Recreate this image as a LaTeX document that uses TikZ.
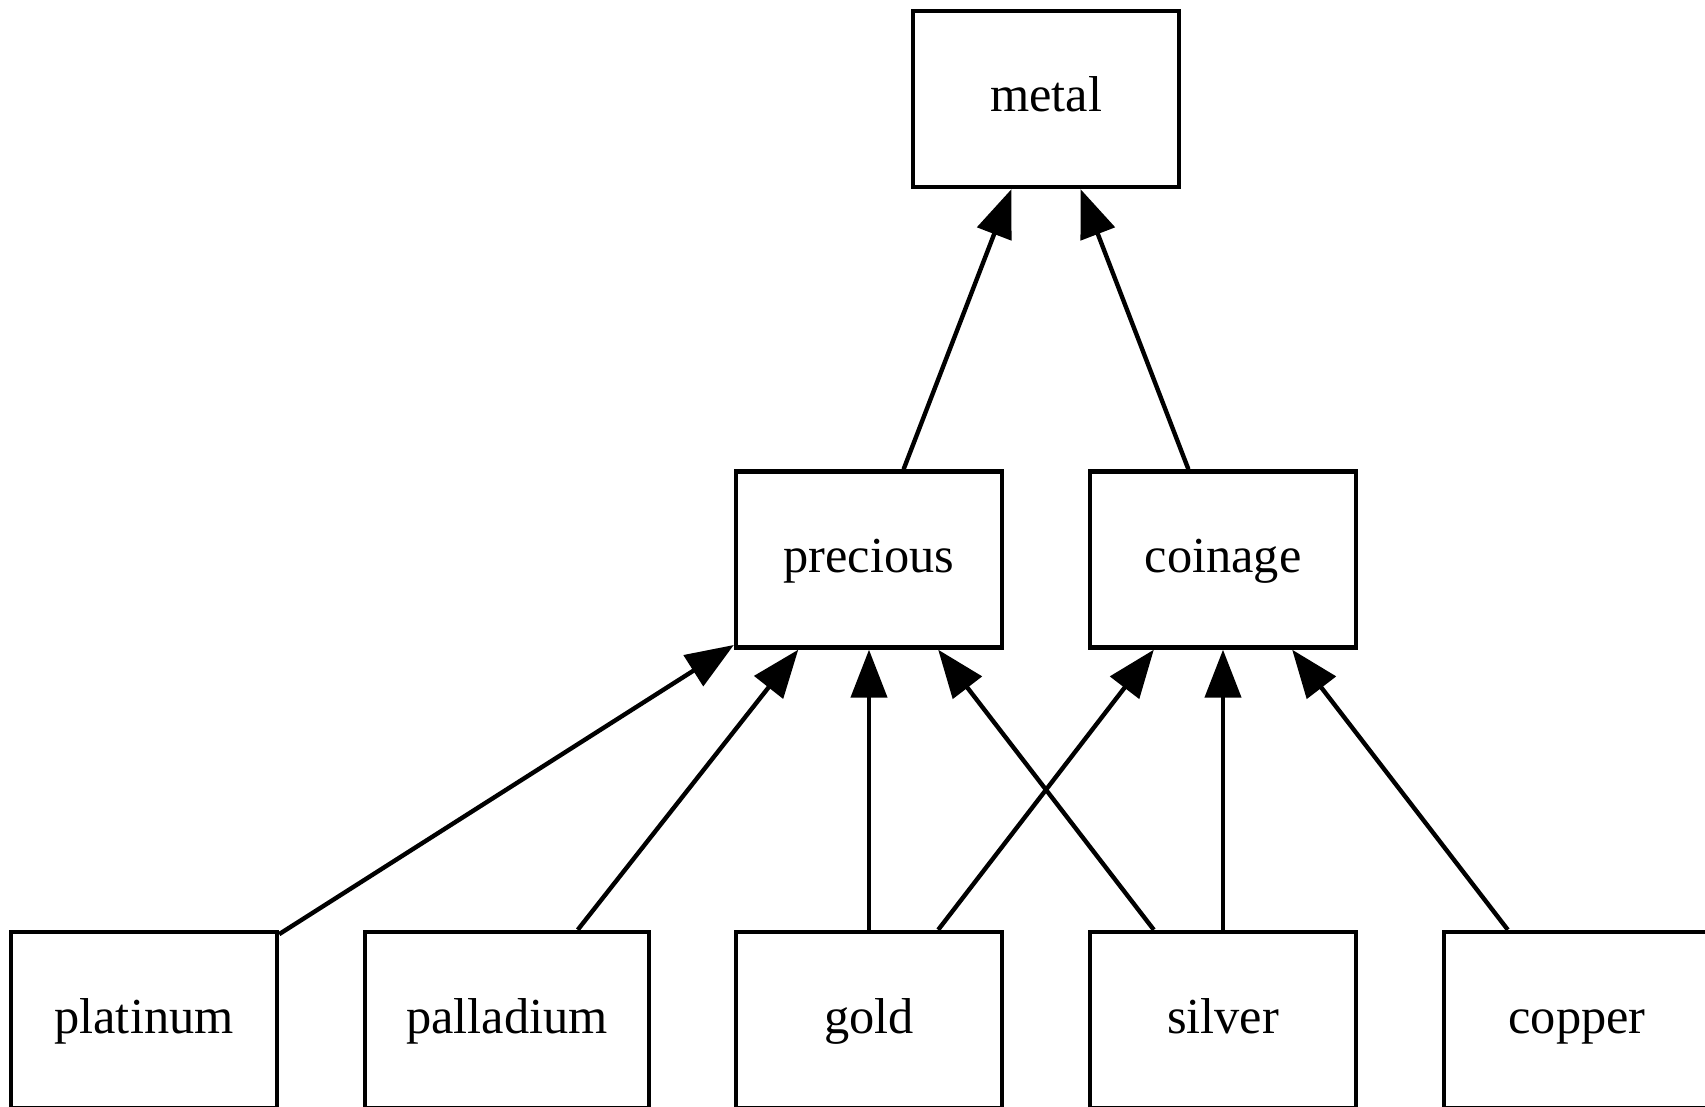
\documentclass[tikz,border=0pt]{standalone}
\usepackage{fontspec}
\setmainfont{Liberation Serif}
\usetikzlibrary{arrows.meta}
\tikzset{
  box/.style={draw=black, line width=2.2pt, rectangle, minimum width=133pt, minimum height=88pt,
    inner sep=0pt, text height=19pt, text depth=6pt, font=\fontsize{25.2pt}{30pt}\selectfont},
  widebox/.style={box, minimum width=142pt},
  edge/.style={draw=black, line width=2.2pt, -{Triangle[length=24pt,width=18pt]}}
}
\begin{document}
\begin{tikzpicture}[x=0.5pt,y=-0.5pt]
\useasboundingbox (0,0) rectangle (1705,1107);
\clip (0,0) rectangle (1705,1107);
\node[box] (metal) at (1046,99) {metal};
\node[box] (precious) at (869,559.5) {precious};
\node[box] (coinage) at (1223,559.5) {coinage};
\node[box] (platinum) at (144,1020) {platinum};
\node[widebox] (palladium) at (507,1020) {palladium};
\node[box] (gold) at (869,1020) {gold};
\node[box] (silver) at (1223,1020) {silver};
\node[box] (copper) at (1577,1020) {copper};
\draw[edge] (precious) -- (metal);
\draw[edge] (coinage) -- (metal);
\draw[edge] (platinum) -- (precious);
\draw[edge] (palladium) -- (precious);
\draw[edge] (gold) -- (precious);
\draw[edge] (silver) -- (precious);
\draw[edge] (gold) -- (coinage);
\draw[edge] (silver) -- (coinage);
\draw[edge] (copper) -- (coinage);
\end{tikzpicture}
\end{document}
